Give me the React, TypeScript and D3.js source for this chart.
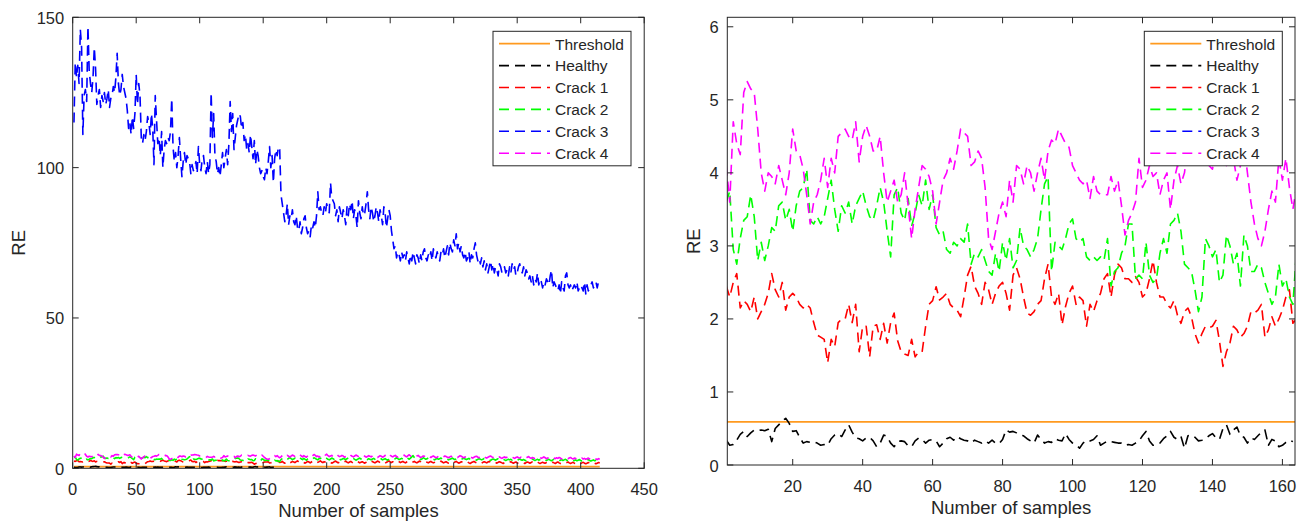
import React from "react";
import * as d3 from "d3";

// ---- data ----
const thresholdValue = 0.59;
const thresholdSpan = [1, 415];

const healthy = [
  0.34,0.27,0.28,0.34,0.42,0.46,0.39,0.44,0.48,0.47,
  0.48,0.47,0.49,0.32,0.5,0.55,0.6,0.64,0.57,0.46,
  0.47,0.38,0.3,0.32,0.31,0.32,0.3,0.27,0.28,0.27,
  0.36,0.41,0.43,0.39,0.48,0.55,0.45,0.37,0.36,0.33,
  0.37,0.38,0.33,0.25,0.3,0.41,0.39,0.3,0.25,0.32,
  0.33,0.32,0.26,0.25,0.33,0.37,0.35,0.3,0.34,0.35,
  0.33,0.25,0.3,0.36,0.38,0.34,0.39,0.36,0.34,0.33,
  0.3,0.34,0.32,0.3,0.33,0.3,0.34,0.3,0.29,0.35,
  0.48,0.45,0.46,0.44,0.41,0.4,0.36,0.33,0.3,0.41,
  0.35,0.3,0.32,0.31,0.36,0.34,0.33,0.43,0.35,0.3,
  0.28,0.23,0.3,0.34,0.33,0.35,0.4,0.27,0.3,0.33,
  0.32,0.31,0.3,0.3,0.27,0.28,0.27,0.3,0.33,0.4,
  0.46,0.33,0.27,0.27,0.3,0.36,0.4,0.46,0.38,0.35,
  0.39,0.23,0.4,0.41,0.38,0.33,0.34,0.36,0.4,0.43,
  0.37,0.35,0.5,0.55,0.42,0.48,0.52,0.4,0.38,0.3,
  0.37,0.35,0.4,0.45,0.48,0.27,0.35,0.33,0.25,0.27,
  0.31,0.34,0.32,
];

const crack1 = [
  2.45,2.3,2.5,2.62,2.15,2.25,2.2,2.1,2.3,2.0,
  2.1,2.2,2.35,2.62,2.4,2.3,2.5,2.12,2.3,2.35,
  2.3,2.2,2.15,2.2,2.15,1.95,1.78,1.75,1.72,1.4,
  1.72,1.62,1.95,2.0,2.0,2.2,1.95,2.2,1.55,1.9,
  1.9,1.48,1.9,1.92,1.72,1.94,1.67,1.95,2.08,1.7,
  1.55,1.52,1.5,1.72,1.48,1.55,1.55,1.9,2.2,2.25,
  2.44,2.26,2.3,2.35,2.2,2.15,2.12,2.03,2.3,2.6,
  2.72,2.45,2.35,2.2,2.5,2.4,2.2,2.35,2.45,2.5,
  2.35,2.12,2.6,2.7,2.55,2.3,2.08,2.05,2.1,2.2,
  2.25,2.55,2.75,2.3,2.2,2.35,1.92,2.17,2.35,2.45,
  2.2,2.3,2.25,1.9,2.2,2.1,2.25,2.35,2.55,2.62,
  2.3,2.6,2.75,2.7,2.55,2.55,2.5,2.58,2.5,2.3,
  2.35,2.55,2.8,2.5,2.3,2.3,2.2,2.15,2.25,2.05,
  1.94,2.1,2.15,2.03,1.8,1.67,1.8,1.9,1.88,1.9,
  1.98,1.7,1.35,1.55,1.67,1.9,1.85,1.75,1.8,1.9,
  2.1,2.08,2.12,2.2,1.75,1.85,2.03,1.9,2.0,2.12,
  2.3,2.4,1.94,
  2.0,2.3,1.9,1.7,2.1,2.4,2.2,1.8,2.0,2.3,2.1,1.9,
  2.2,2.5,2.1,1.8,2.0,2.2,1.9,1.7,2.0,2.3,2.1,1.8,
  2.1,2.4,2.2,1.9,1.7,2.0,2.2,2.5,2.1,1.9,2.2,2.0,
  1.8,2.1,2.3,2.0,1.7,1.9,2.2,2.4,2.1,1.8,2.0,2.3,
  2.1,1.9,2.2,2.4,2.0,1.8,2.1,2.3,2.0,1.7,1.9,2.2,
  2.4,2.1,1.8,2.0,2.2,1.9,1.7,2.0,2.3,2.1,1.8,2.1,
  2.3,2.0,1.8,2.1,2.4,2.2,1.9,2.1,2.3,2.0,1.7,2.0,
  2.2,2.5,2.1,1.9,2.2,2.0,1.8,2.1,2.4,2.2,1.9,2.1,
  2.3,2.0,1.8,2.1,2.3,2.5,2.2,1.9,2.1,2.3,2.0,1.8,
  2.1,2.4,2.2,1.9,1.7,2.0,2.2,2.0,1.8,2.1,2.3,2.0,
  1.8,2.0,2.3,2.1,1.9,2.1,2.4,2.1,1.8,2.0,2.2,1.9,
  1.7,2.0,2.2,2.0,1.8,2.1,2.3,2.0,1.7,1.9,2.2,2.0,
  1.8,2.0,2.3,2.1,1.8,1.6,1.9,2.1,2.3,2.0,1.8,2.0,
  2.2,1.9,1.7,2.0,2.2,2.0,1.8,2.1,2.3,2.0,1.7,1.9,
  2.1,1.9,1.7,2.0,2.2,2.0,1.8,1.6,1.9,2.1,1.9,1.7,
  2.0,2.2,1.9,1.7,1.9,2.1,1.8,1.6,1.9,2.1,2.0,1.8,
  1.6,1.9,2.1,1.9,1.7,1.9,2.2,2.0,1.7,1.9,2.1,1.8,
  1.6,1.8,2.0,1.8,1.7,1.9,2.1,1.9,1.6,1.8,2.0,1.8,
  1.6,1.9,2.1,1.8,1.6,1.8,2.0,1.9,1.7,1.9,2.1,1.8,
  1.6,1.8,2.0,1.7,1.5,1.8,2.0,1.8,1.6,1.8,2.0,1.7,
  1.5,1.7,1.9,1.8,1.6,1.8,2.0,1.7,1.5,1.7,1.9,1.8,
];

const crack2 = [
  3.6,3.75,2.95,2.75,3.1,3.35,3.4,3.7,3.4,2.8,
  3.05,2.8,3.0,3.25,3.2,3.55,3.6,3.35,3.5,3.2,
  3.55,3.75,3.8,4.05,3.35,3.3,3.4,3.3,3.4,3.65,
  3.9,3.5,3.2,3.55,3.45,3.6,3.3,3.55,3.65,3.75,
  3.55,3.4,3.35,3.55,3.8,3.6,3.2,2.85,3.7,3.8,
  3.45,3.35,3.65,3.27,3.45,3.7,3.55,3.9,3.5,3.7,
  3.25,3.15,3.2,2.95,2.9,3.05,3.0,3.1,3.05,3.3,
  2.75,2.9,2.85,2.95,2.8,2.65,2.6,2.9,2.65,3.05,
  2.8,3.1,2.7,2.8,3.25,3.0,2.95,2.85,2.95,3.1,
  3.5,3.85,3.95,2.65,3.05,3.0,2.95,3.1,3.3,3.37,
  3.1,3.05,3.1,2.85,2.8,2.85,2.8,2.85,2.8,3.1,
  2.45,2.65,2.7,2.9,3.0,3.3,3.3,2.55,2.6,2.55,
  3.05,2.6,2.5,2.55,2.9,3.1,2.9,3.3,3.35,3.45,
  3.2,2.75,2.7,2.65,2.4,2.1,2.3,3.1,3.0,2.85,
  2.95,2.5,2.6,3.15,3.0,2.75,2.9,2.45,3.15,3.0,
  2.65,2.65,2.75,2.7,2.5,2.35,2.2,2.3,2.75,2.45,
  2.55,2.3,2.2,
  2.9,3.2,3.5,3.1,2.8,3.0,3.3,3.6,3.2,2.9,3.1,3.4,
  3.0,2.8,3.2,3.5,3.1,2.9,3.3,3.0,2.7,3.1,3.4,3.2,
  2.9,3.1,3.5,3.3,3.0,2.8,3.2,3.4,3.1,2.9,3.2,3.6,
  3.3,3.0,2.8,3.1,3.4,3.2,2.9,3.0,3.3,3.5,3.1,2.8,
  3.0,3.3,3.1,2.9,3.2,3.4,3.0,2.8,3.1,3.3,3.0,2.7,
  2.9,3.2,3.4,3.1,2.8,3.0,3.3,3.1,2.9,3.2,3.0,2.8,
  3.1,3.3,3.0,2.7,2.9,3.2,3.4,3.1,2.8,3.0,3.2,2.9,
  2.7,3.0,3.3,3.1,2.8,3.0,3.2,3.5,3.2,2.9,3.1,3.3,
  3.0,2.8,3.2,3.6,3.3,3.0,3.4,3.8,4.2,3.6,3.3,3.1,
  3.4,3.2,2.9,3.1,3.5,3.3,3.0,3.2,3.4,3.1,2.9,3.2,
  3.0,2.8,3.1,3.3,3.0,3.2,3.4,3.1,2.9,3.1,3.3,3.0,
  2.8,3.0,3.2,3.4,3.1,2.9,3.1,3.3,3.0,2.8,3.0,3.2,
  3.4,3.1,2.9,3.1,3.3,3.0,2.8,3.1,3.2,2.9,2.7,3.0,
  3.2,3.0,2.8,3.0,3.3,3.1,2.9,3.1,2.8,2.6,2.9,3.1,
  2.9,2.7,3.0,3.2,2.9,2.7,2.9,3.1,2.8,2.6,2.8,3.0,
  2.8,3.0,2.7,2.9,3.1,2.8,2.6,2.9,3.1,2.8,2.7,2.9,
  2.7,2.5,2.8,3.0,2.7,2.9,3.1,2.8,2.6,2.8,3.0,2.7,
  2.9,3.2,2.9,2.7,2.9,2.6,2.8,3.0,2.7,2.5,2.8,3.0,
  2.7,2.9,2.6,2.4,2.7,2.9,2.6,2.8,3.0,2.7,2.5,2.7,
  2.9,2.6,2.4,2.6,2.8,2.5,2.7,2.9,2.6,2.4,2.6,2.8,
  2.5,2.7,2.9,2.6,2.4,2.6,2.8,2.5,2.7,2.9,3.0,2.8,
];

const crack3 = [
  115,135,130,134,128,146,140,111,124,126,
  122,147,132,128,125,130,140,133,121,124,
  126,120,124,122,125,121,123,126,120,123,
  124,127,125,130,138,128,124,126,131,127,
  125,123,119,113,115,111,117,113,118,131,
  121,128,124,110,108,111,109,112,117,115,
  111,118,113,101,124,116,108,110,104,112,
  100,106,109,108,110,109,112,123,107,102,
  105,100,104,110,103,97,102,105,101,104,
  103,102,98,101,99,100,102,98,107,101,
  99,103,104,100,98,102,98,101,125,110,
  118,104,102,98,100,97,101,105,100,103,
  106,101,108,122,112,118,106,110,114,116,
  118,117,113,115,109,111,106,108,105,111,
  107,103,109,101,106,104,100,98,99,97,
  96,100,98,102,107,100,104,95,103,106,
  104,107,106,91,88,85,82,84,88,81,
  84,83,86,82,81,84,80,79,82,78,
  80,83,84,80,78,79,77,81,80,82,
  80,84,92,86,87,85,84,87,85,88,
  86,85,95,90,89,88,84,86,82,87,
  85,83,86,84,81,87,84,88,86,89,
  83,86,84,80,89,85,83,87,84,85,
  88,92,86,83,87,85,82,84,87,85,
  82,86,84,81,87,85,80,83,86,84,
  79,76,73,74,70,72,71,69,72,70,
  71,69,72,70,68,71,69,72,70,68,
  71,70,68,71,69,72,73,70,69,71,
  70,72,69,73,71,70,72,70,69,72,
  71,73,70,72,74,71,75,73,72,76,
  74,78,73,75,72,74,71,70,72,69,
  70,72,68,71,70,73,75,71,69,70,
  68,70,67,69,66,68,65,67,69,66,
  68,65,67,66,64,68,67,65,66,67,
  65,66,64,67,65,68,66,67,64,65,
  67,68,66,65,67,64,66,65,63,64,
  62,64,61,63,62,65,61,63,62,60,
  62,61,63,62,61,64,66,60,62,61,
  60,59,61,58,62,60,59,64,65,61,
  60,61,59,60,61,60,62,59,60,61,
  60,59,62,58,61,59,60,61,62,60,
  61,62,60,62,61,
];

const crack4 = [
  4.1,3.6,4.7,4.4,4.25,5.1,5.25,5.15,5.1,4.6,
  4.0,3.75,4.0,3.95,3.85,4.1,3.9,3.7,4.0,4.6,
  4.3,4.25,4.05,3.7,3.3,3.6,3.7,3.9,4.2,3.8,
  4.2,4.0,4.5,4.55,4.6,4.5,4.45,4.7,4.15,4.5,
  4.65,4.5,4.3,4.3,4.5,4.0,3.6,3.75,3.9,3.6,
  3.7,4.0,3.55,3.1,3.5,3.8,4.1,4.05,3.95,3.75,
  3.3,3.6,3.9,4.0,4.2,4.05,4.3,4.6,4.55,4.5,
  4.1,4.15,4.3,4.2,3.8,3.1,2.95,3.2,3.45,3.6,
  3.4,3.9,3.6,4.1,4.05,3.85,4.1,4.0,3.75,4.0,
  4.2,3.9,4.3,4.45,4.4,4.6,4.5,4.4,4.35,4.1,
  4.0,3.9,3.85,3.9,3.65,3.95,3.75,3.7,3.7,3.7,
  3.95,3.75,3.9,3.55,3.15,3.35,3.45,3.6,4.2,3.8,
  3.9,4.1,3.95,4.0,3.7,3.9,4.0,3.5,3.9,4.1,
  3.85,4.0,4.4,4.3,4.25,4.4,4.2,4.3,4.1,4.05,
  4.3,4.4,4.25,4.1,4.5,4.2,3.9,4.1,4.4,4.0,
  3.6,3.3,3.1,3.0,3.2,3.5,3.75,3.6,4.2,3.9,
  4.2,3.8,3.5,
  3.8,4.2,4.5,4.1,3.9,4.3,4.0,3.7,4.1,4.4,4.2,3.9,
  3.6,4.0,4.3,4.5,4.1,3.8,4.2,3.9,3.7,4.1,4.4,4.0,
  3.8,4.2,4.6,4.3,3.9,4.1,3.7,4.0,4.3,4.1,3.8,4.4,
  4.7,4.2,3.9,4.1,4.3,3.8,4.0,4.4,4.6,4.2,3.9,4.0,
  4.3,4.1,3.7,3.9,4.2,4.5,4.8,4.3,4.0,3.8,4.1,4.4,
  4.2,3.9,3.6,3.8,4.1,4.3,4.0,3.7,3.9,4.2,4.0,3.8,
  4.1,4.4,4.1,3.8,3.6,3.9,4.2,4.0,3.7,3.9,4.3,4.1,
  4.6,4.9,4.4,4.0,3.8,4.1,4.3,3.9,3.7,4.0,4.2,3.9,
  4.1,4.4,4.0,3.8,4.2,4.5,4.1,3.9,3.7,4.0,3.8,4.1,
  4.3,3.9,3.6,3.8,4.1,4.0,3.7,3.9,4.2,3.8,3.6,3.9,
  4.1,3.8,3.5,3.7,4.0,4.2,3.9,3.6,3.8,4.1,3.9,3.7,
  3.5,3.8,4.0,3.7,3.9,4.1,3.8,3.6,3.9,4.2,4.0,3.7,
  3.5,3.8,3.6,3.9,4.1,3.8,3.6,3.4,3.7,3.9,4.0,3.7,
  3.5,3.8,4.0,3.7,3.9,3.6,3.4,3.7,3.9,4.1,3.8,3.6,
  3.4,3.7,3.9,3.6,3.8,3.5,3.3,3.6,3.8,3.5,3.7,3.9,
  3.6,3.4,3.7,3.5,3.3,3.6,3.8,3.5,3.4,3.7,3.5,3.3,
  3.6,3.4,3.7,3.9,3.5,3.3,3.6,3.4,3.2,3.5,3.7,3.4,
  3.6,3.3,3.5,3.8,3.5,3.2,3.4,3.6,3.3,3.5,3.7,3.4,
  3.2,3.5,3.3,3.6,3.4,3.1,3.3,3.5,3.7,3.4,3.2,3.4,
  3.6,3.3,3.1,3.4,3.2,3.5,3.3,3.0,3.2,3.4,3.1,3.3,
  3.0,3.2,3.4,3.1,2.9,3.2,3.0,3.3,3.1,2.9,3.2,3.0,
];

const seriesNames = ["Healthy", "Crack 1", "Crack 2", "Crack 3", "Crack 4"];
const seriesData = [healthy, crack1, crack2, crack3, crack4];
const seriesColors = ["#000000", "#ff0000", "#00ff00", "#0000ff", "#ff00ff"];
const thresholdColor = "#ff9a1f";

const leftXTicks = [0, 50, 100, 150, 200, 250, 300, 350, 400, 450];
const leftYTicks = [0, 50, 100, 150];
const rightXTicks = [20, 40, 60, 80, 100, 120, 140, 160];
const rightYTicks = [0, 1, 2, 3, 4, 5, 6];

const FONT = "'Liberation Sans', Arial, Helvetica, sans-serif";
const AX = "#262626";

type PanelProps = {
  id: string;
  left: number; right: number; top: number; bottom: number;
  xDomain: [number, number]; yDomain: [number, number];
  xTicks: number[]; yTicks: number[];
  legendX: number; xLabelY: number; yLabelX: number;
};

function Panel(p: PanelProps) {
  const x = d3.scaleLinear().domain(p.xDomain).range([p.left, p.right]);
  const y = d3.scaleLinear().domain(p.yDomain).range([p.bottom, p.top]);
  const line = d3.line<number>().x((_, i) => x(i + 1)).y((d) => y(d));
  const tl = 6;
  const legendItems = [{ name: "Threshold", color: thresholdColor, dashed: false },
    ...seriesNames.map((n, i) => ({ name: n, color: seriesColors[i], dashed: true }))];
  const lgTop = 31.3;
  const lgW = 138;
  const lgH = 134.5;
  const rowH = 21.9;
  return (
    <g>
      <defs>
        <clipPath id={p.id}>
          <rect x={p.left} y={p.top} width={p.right - p.left} height={p.bottom - p.top} />
        </clipPath>
      </defs>
      <g clipPath={`url(#${p.id})`}>
        <line x1={x(thresholdSpan[0])} x2={x(thresholdSpan[1])} y1={y(thresholdValue)} y2={y(thresholdValue)}
          stroke={thresholdColor} strokeWidth={1.8} />
        {seriesData.map((d, i) => (
          <path key={i} d={line(d) || ""} fill="none" stroke={seriesColors[i]} strokeWidth={1.6}
            strokeDasharray="10,6" strokeLinejoin="round" />
        ))}
      </g>
      {/* axes box */}
      <rect x={p.left} y={p.top} width={p.right - p.left} height={p.bottom - p.top} fill="none" stroke={AX} strokeWidth={1} />
      {p.xTicks.map((t) => (
        <g key={"x" + t}>
          <line x1={x(t)} x2={x(t)} y1={p.bottom} y2={p.bottom - tl} stroke={AX} />
          <line x1={x(t)} x2={x(t)} y1={p.top} y2={p.top + tl} stroke={AX} />
          <text x={x(t)} y={p.bottom + 26.5} textAnchor="middle" fontSize={16.5} fill={AX} fontFamily={FONT}>{t}</text>
        </g>
      ))}
      {p.yTicks.map((t) => (
        <g key={"y" + t}>
          <line x1={p.left} x2={p.left + tl} y1={y(t)} y2={y(t)} stroke={AX} />
          <line x1={p.right} x2={p.right - tl} y1={y(t)} y2={y(t)} stroke={AX} />
          <text x={p.left - 8.5} y={y(t) + 6.5} textAnchor="end" fontSize={16.5} fill={AX} fontFamily={FONT}>{t}</text>
        </g>
      ))}
      <text x={(p.left + p.right) / 2} y={p.xLabelY} textAnchor="middle" fontSize={18.5} fill={AX} fontFamily={FONT}>Number of samples</text>
      <text transform={`translate(${p.yLabelX},${(p.top + p.bottom) / 2}) rotate(-90)`} textAnchor="middle" fontSize={18.5} fill={AX} fontFamily={FONT}>RE</text>
      {/* legend */}
      <rect x={p.legendX} y={lgTop} width={lgW} height={lgH} fill="#ffffff" stroke={AX} strokeWidth={1} />
      {legendItems.map((it, i) => {
        const cy = lgTop + 12.4 + i * rowH;
        return (
          <g key={it.name}>
            <line x1={p.legendX + 6} x2={p.legendX + 57} y1={cy} y2={cy} stroke={it.color}
              strokeWidth={it.dashed ? 1.6 : 1.8} strokeDasharray={it.dashed ? "10,6" : undefined} />
            <text x={p.legendX + 62} y={cy + 5.8} fontSize={15.5} fill={AX} fontFamily={FONT}>{it.name}</text>
          </g>
        );
      })}
    </g>
  );
}

export default function App() {
  return (
    <svg width={1298} height={523} style={{ position: "absolute", left: 0, top: 0, background: "#fff" }}>
      <rect width={1298} height={523} fill="#fff" />
      <Panel id="clipL" left={72.7} right={644.2} top={17.3} bottom={468.3}
        xDomain={[0, 450]} yDomain={[0, 150]} xTicks={leftXTicks} yTicks={leftYTicks}
        legendX={493} xLabelY={517} yLabelX={25} />
      <Panel id="clipR" left={727.3} right={1295} top={17.3} bottom={465}
        xDomain={[1.3, 163.6]} yDomain={[0, 6.13]} xTicks={rightXTicks} yTicks={rightYTicks}
        legendX={1144.3} xLabelY={514} yLabelX={700} />
    </svg>
  );
}
